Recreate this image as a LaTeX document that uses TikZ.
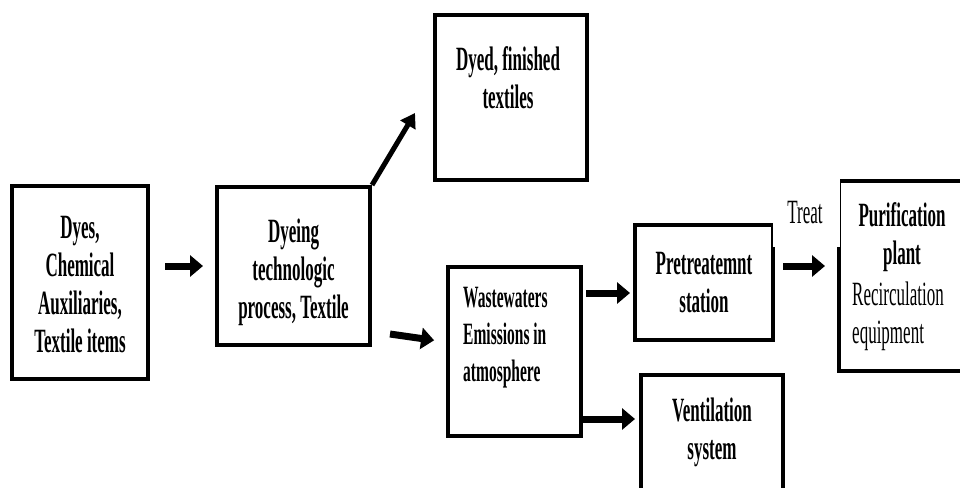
\documentclass[tikz,border=0pt]{standalone}
\usepackage{fontspec}
\setmainfont[FakeStretch=0.5]{Liberation Serif}
\usetikzlibrary{arrows.meta}
\begin{document}
\begin{tikzpicture}[x=1pt,y=-1pt,
  boxstyle/.style={draw, line width=4pt, inner sep=0pt},
  lbl/.style={font=\bfseries\fontsize{34}{38}\selectfont, align=center, inner sep=0pt},
  lblsmall/.style={font=\bfseries\fontsize{31}{37}\selectfont, align=left, inner sep=0pt},
  plain/.style={font=\fontsize{34}{38}\selectfont, align=left, inner sep=0pt},
  arr/.style={line width=7pt, -{Triangle[length=13pt,width=21pt]}},
  arrdiag/.style={line width=5pt, -{Triangle[length=14pt,width=17pt]}}]
\useasboundingbox (0,0) rectangle (960,487);
\fill[white] (0,0) rectangle (960,487);
\clip (0,0) rectangle (960,487);

% boxes
\node[boxstyle, minimum width=136pt, minimum height=193pt] (dyes) at (80,282.5) {};
\node[boxstyle, minimum width=153pt, minimum height=158pt] (dyeing) at (293.5,266) {};
\node[boxstyle, minimum width=152pt, minimum height=165pt] (dyed) at (511,97.5) {};
\node[boxstyle, minimum width=133pt, minimum height=169pt] (waste) at (514.5,351.5) {};
\node[boxstyle, minimum width=138pt, minimum height=115pt] (pre) at (704,282.5) {};
\node[boxstyle, minimum width=142pt, minimum height=125pt] (vent) at (712,437.5) {};
\node[boxstyle, minimum width=141pt, minimum height=190pt] (puri) at (909.5,276) {};

% texts
\node[lbl] (t1) at (80,285) {Dyes,\\Chemical\\Auxiliaries,\\Textile items};
\node[lbl] (t2) at (293.5,272) {Dyeing\\technologic\\process, Textile};
\node[lbl] (t3) at (508,78) {Dyed, finished\\textiles};
\node[lblsmall, anchor=west] (t4) at (463,338) {Wastewaters\\Emissions in\\atmosphere};
\node[lbl] (t5) at (704,283) {Pretreatemnt\\station};
\node[lbl] (t6) at (712,432) {Ventilation\\system};
\node[lbl] (t7) at (902,237) {Purification\\plant};
\node[plain, anchor=west] (t8) at (852,316) {Recirculation\\equipment};

% arrows
\draw[arr, shorten <=15pt, shorten >=12pt] (dyes.east |- dyeing.west) -- (dyeing.west);
\coordinate (d1) at (415,113);
\draw[arrdiag] (dyeing.north east) -- (d1);
\coordinate (w0) at (390,334);
\draw[arr, shorten >=12pt] (w0) -- ([yshift=9.5pt]waste.west);
\coordinate (p1) at ([yshift=-10.5pt]pre.west);
\draw[arr, shorten <=3pt, shorten >=3pt] (waste.east |- p1) -- (p1);
\coordinate (v1) at ([yshift=18.5pt]vent.west);
\draw[arr, shorten >=4pt] (waste.east |- v1) -- (v1);
\coordinate (q1) at ([yshift=10pt]puri.west);
\draw[arr, shorten <=8pt, shorten >=12pt] (pre.east |- q1) -- (q1);

% label over the gap
\fill[white] (772.5,170) rectangle (839.5,247);
\node[plain, align=center] (treat) at (805,213) {Treat};
\end{tikzpicture}
\end{document}
